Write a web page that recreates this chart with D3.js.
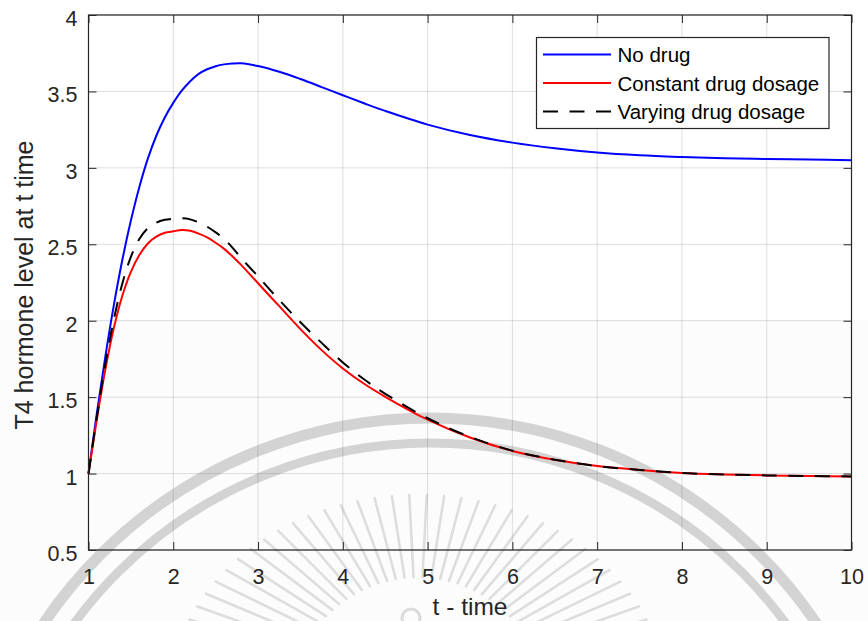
<!DOCTYPE html>
<html>
<head>
<meta charset="utf-8">
<script src="https://cdn.jsdelivr.net/npm/d3@7"></script>
<style>
  body { margin: 0; background: #fff; }
  svg text { font-family: "Liberation Sans", Arial, Helvetica, sans-serif; }
</style>
</head>
<body>
<svg id="chart" width="868" height="621"></svg>
<script>
// ---- data ----
const timePoints = [1, 1.1, 1.2, 1.3, 1.4, 1.5, 1.6, 1.7, 1.8, 1.9,
                    2.0, 2.1, 2.2, 2.3, 2.4, 2.5, 2.6, 2.7, 2.8,
                    3.0, 3.25, 3.5, 3.75, 4.0, 4.25, 4.5,
                    5.0, 5.5, 6.0, 6.5, 7.0, 7.5, 8.0, 8.5, 9.0, 9.5, 10];

const noDrug = [1.0, 1.40, 1.77, 2.105, 2.40, 2.655, 2.875, 3.06, 3.21, 3.33,
                3.425, 3.505, 3.567, 3.615, 3.645, 3.665, 3.677, 3.683, 3.684,
                3.666, 3.6285, 3.581, 3.5285, 3.475, 3.4225, 3.3725,
                3.283, 3.215, 3.165, 3.128, 3.10, 3.082, 3.071, 3.063, 3.058, 3.054, 3.05];

const constantDose = [1.0, 1.36, 1.685, 1.955, 2.165, 2.32, 2.43, 2.505, 2.55, 2.575,
                      2.585, 2.593, 2.588, 2.57, 2.545, 2.51, 2.47, 2.42, 2.365,
                      2.245, 2.095, 1.945, 1.8075, 1.6875, 1.5875, 1.5025,
                      1.3525, 1.236, 1.148, 1.09, 1.049, 1.024, 1.004, 0.994, 0.988, 0.984, 0.981];

const varyingDose = [1.0, 1.375, 1.72, 2.012, 2.245, 2.418, 2.535, 2.605, 2.642, 2.66,
                     2.667, 2.67, 2.663, 2.643, 2.615, 2.578, 2.535, 2.477, 2.41,
                     2.29, 2.135, 1.99, 1.855, 1.727, 1.617, 1.522,
                     1.362, 1.24, 1.15, 1.091, 1.049, 1.024, 1.004, 0.994, 0.988, 0.984, 0.981];

const seriesNames = ["No drug", "Constant drug dosage", "Varying drug dosage"];
const xTicks = [1, 2, 3, 4, 5, 6, 7, 8, 9, 10];
const yTicks = [0.5, 1, 1.5, 2, 2.5, 3, 3.5, 4];
const xTickLabels = ["1", "2", "3", "4", "5", "6", "7", "8", "9", "10"];
const yTickLabels = ["0.5", "1", "1.5", "2", "2.5", "3", "3.5", "4"];
const xTitle = "t - time";
const yTitle = "T4 hormone level at t time";

// ---- layout ----
const W = 868, H = 621;
const box = { left: 88.5, right: 851.5, top: 15, bottom: 550 };
const axisColor = "#262626";

const svg = d3.select("#chart");
const x = d3.scaleLinear().domain([1, 10]).range([box.left, box.right]);
const y = d3.scaleLinear().domain([0.5, 4]).range([box.bottom, box.top]);

svg.append("rect").attr("width", W).attr("height", H).attr("fill", "#fff");

// ---- faint seal in the page background ----
const seal = svg.append("g").attr("pointer-events", "none");
seal.append("rect")
  .attr("x", 0).attr("y", 320).attr("width", W).attr("height", H - 320)
  .attr("fill", "#000").attr("opacity", 0.012);
const sealCx = 430, sealCy = 884;
[{ r: 466, w: 11 }, { r: 441, w: 9 }].forEach(ring => {
  seal.append("circle")
    .attr("cx", sealCx).attr("cy", sealCy).attr("r", ring.r)
    .attr("fill", "none").attr("stroke", "#000")
    .attr("stroke-opacity", 0.16).attr("stroke-width", ring.w);
});
const rayCx = 418, rayCy = 705;
d3.range(196, 345, 4).forEach(deg => {
  const a = deg * Math.PI / 180;
  const r0 = 128, rx = 250, ry = 210;
  seal.append("line")
    .attr("x1", rayCx + r0 * Math.cos(a)).attr("y1", rayCy + r0 * Math.sin(a))
    .attr("x2", rayCx + rx * Math.cos(a)).attr("y2", rayCy + ry * Math.sin(a))
    .attr("stroke", "#000").attr("stroke-opacity", 0.12)
    .attr("stroke-width", 2.6).attr("stroke-linecap", "round");
});
seal.append("circle")
  .attr("cx", 411).attr("cy", 618).attr("r", 9)
  .attr("fill", "none").attr("stroke", "#000")
  .attr("stroke-opacity", 0.13).attr("stroke-width", 3);

// ---- grid ----
const grid = svg.append("g");
grid.selectAll("line.gx").data(xTicks).join("line")
  .attr("x1", d => x(d)).attr("x2", d => x(d))
  .attr("y1", box.top).attr("y2", box.bottom)
  .attr("stroke", axisColor).attr("stroke-opacity", 0.15).attr("stroke-width", 1);
grid.selectAll("line.gy").data(yTicks).join("line")
  .attr("y1", d => y(d)).attr("y2", d => y(d))
  .attr("x1", box.left).attr("x2", box.right)
  .attr("stroke", axisColor).attr("stroke-opacity", 0.15).attr("stroke-width", 1);

// ---- curves ----
const line = d3.line()
  .x((d, i) => x(timePoints[i]))
  .y(d => y(d))
  .curve(d3.curveCatmullRom.alpha(0.5));

const curves = [
  { values: noDrug, color: "#0000ff", dash: null },
  { values: constantDose, color: "#ff0000", dash: null },
  { values: varyingDose, color: "#000000", dash: "15,11.5" }
];
svg.append("g").selectAll("path").data(curves).join("path")
  .attr("d", d => line(d.values))
  .attr("fill", "none")
  .attr("stroke", d => d.color)
  .attr("stroke-width", 2)
  .attr("stroke-dasharray", d => d.dash);

// ---- axes ----
const xAxis = d3.axisBottom(x).tickValues(xTicks)
  .tickFormat((d, i) => xTickLabels[i])
  .tickSizeInner(-8).tickSizeOuter(0).tickPadding(19);
const yAxis = d3.axisLeft(y).tickValues(yTicks)
  .tickFormat((d, i) => yTickLabels[i])
  .tickSizeInner(-8).tickSizeOuter(0).tickPadding(11);

const gx = svg.append("g").attr("transform", `translate(0,${box.bottom})`).call(xAxis);
const gy = svg.append("g").attr("transform", `translate(${box.left},0)`).call(yAxis);
const gTop = svg.append("g").attr("transform", `translate(0,${box.top})`)
  .call(d3.axisTop(x).tickValues(xTicks).tickFormat("").tickSizeInner(-8).tickSizeOuter(0));
const gRight = svg.append("g").attr("transform", `translate(${box.right},0)`)
  .call(d3.axisRight(y).tickValues(yTicks).tickFormat("").tickSizeInner(-8).tickSizeOuter(0));

[gx, gy, gTop, gRight].forEach(g => {
  g.select(".domain").remove();
  g.selectAll(".tick line").attr("stroke", axisColor).attr("stroke-width", 1);
  g.selectAll(".tick text").attr("fill", axisColor).attr("font-size", "21.5px")
    .attr("font-family", "Liberation Sans, Arial, sans-serif");
});
gy.selectAll(".tick text").attr("dy", "0.49em");

// frame
svg.append("rect")
  .attr("x", box.left).attr("y", box.top)
  .attr("width", box.right - box.left).attr("height", box.bottom - box.top)
  .attr("fill", "none").attr("stroke", axisColor).attr("stroke-width", 1.2);

// ---- axis titles ----
svg.append("text")
  .attr("x", (box.left + box.right) / 2).attr("y", 615)
  .attr("text-anchor", "middle").attr("font-size", "24.5px").attr("fill", axisColor)
  .text(xTitle);
svg.append("text")
  .attr("transform", "translate(33,285) rotate(-90)")
  .attr("text-anchor", "middle").attr("font-size", "25px").attr("fill", axisColor)
  .text(yTitle);

// ---- legend ----
const legend = svg.append("g").attr("transform", "translate(536.5,37.5)");
legend.append("rect")
  .attr("width", 292.5).attr("height", 91)
  .attr("fill", "#fff").attr("stroke", axisColor).attr("stroke-width", 1.2);
const rows = legend.selectAll("g.row").data(curves).join("g")
  .attr("transform", (d, i) => `translate(0,${17 + i * 28.5})`);
rows.append("line")
  .attr("x1", 6.5).attr("x2", 74.5)
  .attr("stroke", d => d.color).attr("stroke-width", 2)
  .attr("stroke-dasharray", d => d.dash);
rows.append("text")
  .attr("x", 81).attr("y", 7.5)
  .attr("font-size", "20.5px").attr("fill", "#000")
  .text((d, i) => seriesNames[i]);
</script>
</body>
</html>
